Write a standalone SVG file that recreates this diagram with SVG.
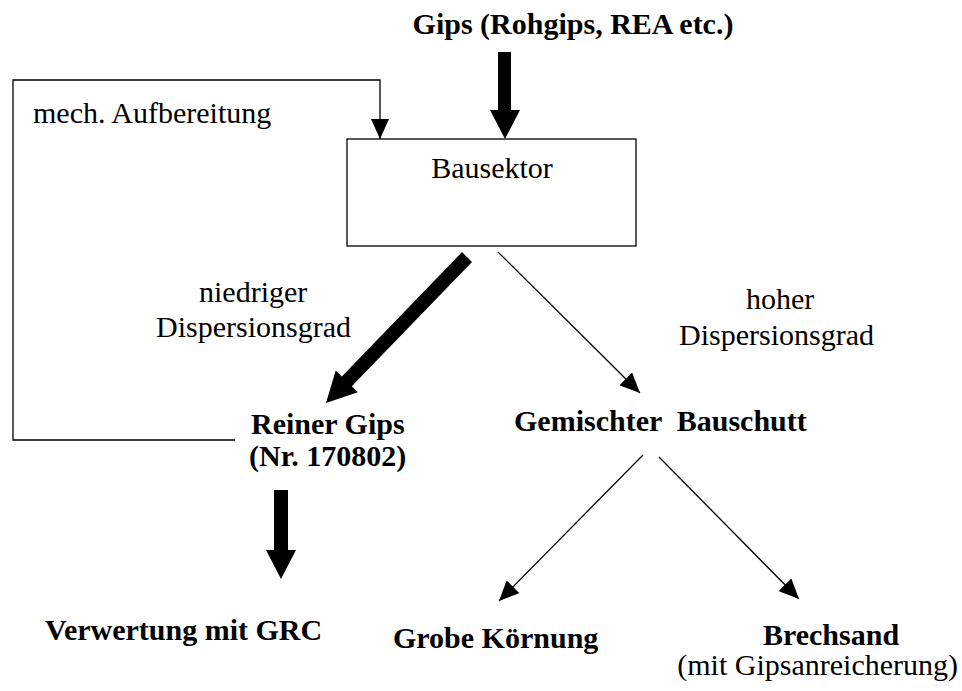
<svg xmlns="http://www.w3.org/2000/svg" width="962" height="691" viewBox="0 0 962 691">
  <style>
    text { font-family: "Liberation Serif", "Times New Roman", serif; font-size: 30px; fill: #000; }
    .b { font-weight: bold; }
    .thin { fill: none; stroke: #000; stroke-width: 1.3; }
    .thick { fill: #000; stroke: none; }
  </style>
  <defs>
    <marker id="head" markerUnits="userSpaceOnUse" markerWidth="20" markerHeight="18" refX="20" refY="9" orient="auto">
      <path d="M0,0 L20,9 L0,18 Z" fill="#000"/>
    </marker>
  </defs>
  <rect width="962" height="691" fill="#fff"/>

  <g id="connectors">
    <!-- supply into the building sector -->
    <polygon class="thick" points="498,52 511,52 511,110 520,110 505,139 490,110 498,110"/>
    <!-- low dispersion: thick diagonal -->
    <polygon class="thick" points="472.0,261.9 462.0,252.1 341.8,376.5 335.7,370.6 326,403 357.9,392.2 351.8,386.3"/>
    <!-- high dispersion -->
    <line class="thin" x1="498" y1="252" x2="640" y2="393" marker-end="url(#head)"/>
    <!-- recycling loop back to the building sector -->
    <polyline class="thin" points="235,440 13,440 13,80 380,80 380,139" marker-end="url(#head)"/>
    <!-- pure gypsum to recovery -->
    <polygon class="thick" points="274,490 288,490 288,550 296,550 281,579 266,550 274,550"/>
    <!-- mixed rubble split -->
    <line class="thin" x1="643" y1="455" x2="499" y2="601" marker-end="url(#head)"/>
    <line class="thin" x1="659" y1="457" x2="799" y2="599" marker-end="url(#head)"/>
  </g>

  <g id="gips">
    <text class="b" x="573" y="34" text-anchor="middle">Gips (Rohgips, REA etc.)</text>
  </g>
  <g id="aufbereitung">
    <text x="33" y="123">mech. Aufbereitung</text>
  </g>
  <g id="bausektor">
    <rect x="347" y="139" width="289" height="107" fill="none" stroke="#000" stroke-width="1.3"/>
    <text x="492" y="178" text-anchor="middle">Bausektor</text>
  </g>
  <g id="label-niedrig">
    <text x="199" y="302">niedriger</text>
    <text x="156" y="337">Dispersionsgrad</text>
  </g>
  <g id="label-hoch">
    <text x="746" y="309">hoher</text>
    <text x="679" y="345">Dispersionsgrad</text>
  </g>
  <g id="reiner-gips">
    <text class="b" x="251" y="434">Reiner Gips</text>
    <text class="b" x="249" y="466">(Nr. 170802)</text>
  </g>
  <g id="bauschutt">
    <text class="b" x="514" y="431" xml:space="preserve">Gemischter  Bauschutt</text>
  </g>
  <g id="verwertung">
    <text class="b" x="45" y="640">Verwertung mit GRC</text>
  </g>
  <g id="koernung">
    <text class="b" x="393" y="648">Grobe Körnung</text>
  </g>
  <g id="brechsand">
    <text class="b" x="831" y="645" text-anchor="middle">Brechsand</text>
    <text x="958" y="675" text-anchor="end">(mit Gipsanreicherung)</text>
  </g>
</svg>
